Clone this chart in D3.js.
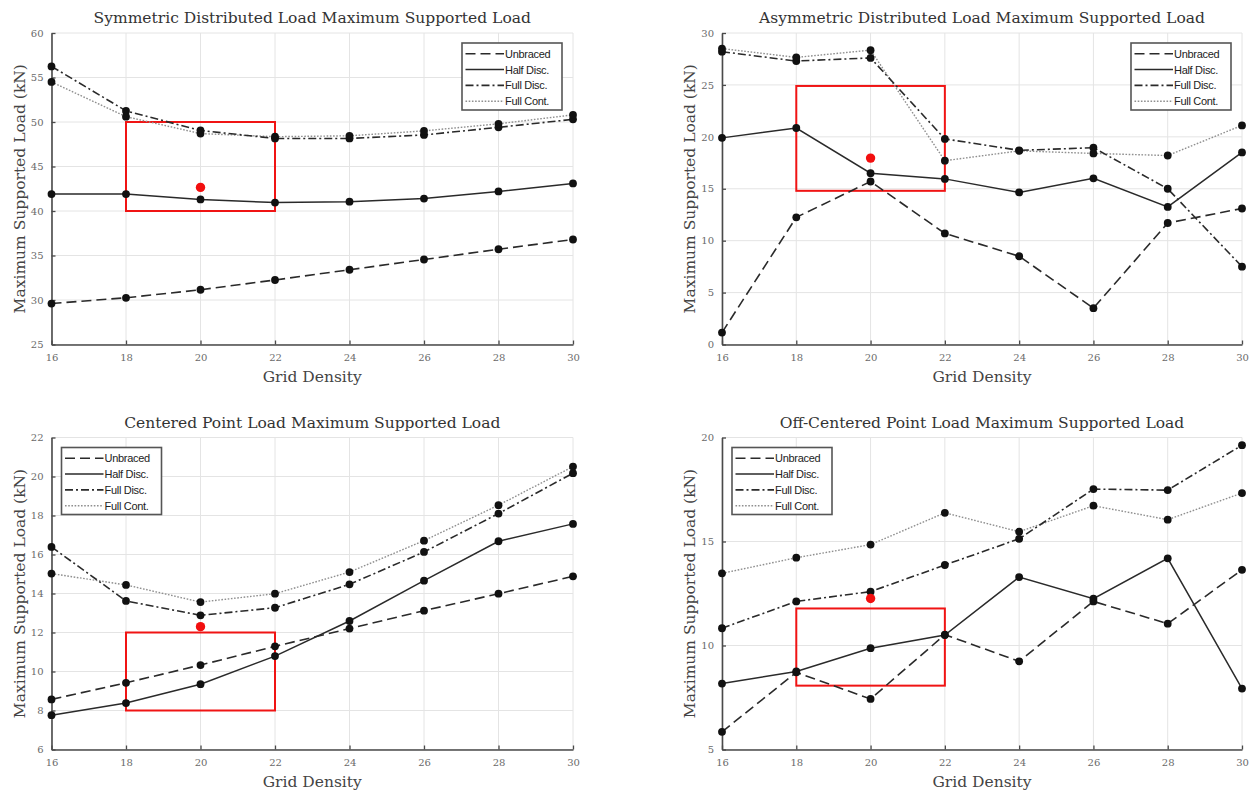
<!DOCTYPE html>
<html>
<head>
<meta charset="utf-8">
<script src="https://cdn.jsdelivr.net/npm/d3@7"></script>
<style>
  html, body { margin: 0; padding: 0; background: #fff; }
  svg { display: block; }
</style>
</head>
<body>
<svg id="chart" width="1250" height="793"></svg>
<script>
// ---------------- DATA ----------------
const gridDensity = [16, 18, 20, 22, 24, 26, 28, 30];
const seriesNames = ["Unbraced", "Half Disc.", "Full Disc.", "Full Cont."];
const xTicks = [16, 18, 20, 22, 24, 26, 28, 30];

// Symmetric Distributed Load
const symTitle = "Symmetric Distributed Load Maximum Supported Load";
const symYTicks = [25, 30, 35, 40, 45, 50, 55, 60];
const symUnbraced = [29.6, 30.25, 31.15, 32.25, 33.4, 34.55, 35.7, 36.8];
const symHalfDisc = [41.9, 41.9, 41.3, 40.95, 41.05, 41.4, 42.2, 43.1];
const symFullDisc = [56.25, 51.25, 49.05, 48.15, 48.15, 48.55, 49.4, 50.3];
const symFullCont = [54.5, 50.6, 48.7, 48.35, 48.45, 49.0, 49.8, 50.8];
const symRedPoint = [20, 42.65];
const symRedBox = [18, 22, 40, 50];

// Asymmetric Distributed Load
const asymTitle = "Asymmetric Distributed Load Maximum Supported Load";
const asymYTicks = [0, 5, 10, 15, 20, 25, 30];
const asymUnbraced = [1.15, 12.25, 15.7, 10.7, 8.5, 3.5, 11.7, 13.1];
const asymHalfDisc = [19.9, 20.85, 16.5, 15.95, 14.65, 16.0, 13.25, 18.5];
const asymFullDisc = [28.2, 27.3, 27.6, 19.8, 18.7, 18.95, 15.0, 7.5];
const asymFullCont = [28.5, 27.65, 28.35, 17.7, 18.65, 18.4, 18.2, 21.1];
const asymRedPoint = [20, 17.95];
const asymRedBox = [18, 22, 14.8, 24.9];

// Centered Point Load
const cenTitle = "Centered Point Load Maximum Supported Load";
const cenYTicks = [6, 8, 10, 12, 14, 16, 18, 20, 22];
const cenUnbraced = [8.57, 9.42, 10.33, 11.29, 12.2, 13.12, 13.99, 14.88];
const cenHalfDisc = [7.76, 8.38, 9.35, 10.79, 12.59, 14.66, 16.68, 17.57];
const cenFullDisc = [16.39, 13.62, 12.88, 13.27, 14.47, 16.13, 18.1, 20.17];
const cenFullCont = [15.02, 14.44, 13.56, 13.99, 15.1, 16.71, 18.53, 20.51];
const cenRedPoint = [20, 12.3];
const cenRedBox = [18, 22, 8, 12];

// Off-Centered Point Load
const offTitle = "Off-Centered Point Load Maximum Supported Load";
const offYTicks = [5, 10, 15, 20];
const offUnbraced = [5.85, 8.71, 7.43, 10.52, 9.24, 12.12, 11.05, 13.64];
const offHalfDisc = [8.17, 8.75, 9.87, 10.5, 13.29, 12.25, 14.19, 7.93];
const offFullDisc = [10.83, 12.12, 12.59, 13.87, 15.13, 17.52, 17.47, 19.63];
const offFullCont = [13.47, 14.22, 14.85, 16.38, 15.47, 16.72, 16.05, 17.33];
const offRedPoint = [20, 12.26];
const offRedBox = [18, 22, 8.07, 11.78];

const xLabel = "Grid Density";
const yLabel = "Maximum Supported Load (kN)";

// ---------------- STYLES ----------------
const lineStyles = [
  { stroke: "#2a2a2a", dash: "10,5", width: 1.6 },
  { stroke: "#2a2a2a", dash: null, width: 1.5 },
  { stroke: "#2a2a2a", dash: "8,3,2,3", width: 1.6 },
  { stroke: "#8f8f8f", dash: "1.6,1.6", width: 1.4 }
];
const serif = "'DejaVu Serif', 'Liberation Serif', serif";
const sans = "'Liberation Sans', Arial, sans-serif";

const svg = d3.select("#chart");

function drawPanel(p) {
  const g = svg.append("g");
  const x = d3.scaleLinear().domain([16, 30]).range([p.left, p.right]);
  const y = d3.scaleLinear().domain(d3.extent(p.yTicks)).range([p.bottom, p.top]);

  // grid
  g.append("g").selectAll("line.vg").data(xTicks).join("line")
    .attr("x1", d => x(d)).attr("x2", d => x(d))
    .attr("y1", p.top).attr("y2", p.bottom)
    .attr("stroke", "#e4e4e4").attr("stroke-width", 1);
  g.append("g").selectAll("line.hg").data(p.yTicks).join("line")
    .attr("x1", p.left).attr("x2", p.right)
    .attr("y1", d => y(d)).attr("y2", d => y(d))
    .attr("stroke", "#e4e4e4").attr("stroke-width", 1);

  // axes (ticks inward)
  const xAxis = d3.axisBottom(x).tickValues(xTicks).tickSizeInner(-4).tickSizeOuter(0).tickPadding(9);
  const yAxis = d3.axisLeft(y).tickValues(p.yTicks).tickSizeInner(-4).tickSizeOuter(0).tickPadding(8);
  const xg = g.append("g").attr("transform", `translate(0,${p.bottom})`).call(xAxis);
  const yg = g.append("g").attr("transform", `translate(${p.left},0)`).call(yAxis);
  [xg, yg].forEach(a => {
    a.select(".domain").attr("stroke", "#4a4a4a").attr("stroke-width", 1.6);
    a.selectAll(".tick line").attr("stroke", "#4a4a4a").attr("stroke-width", 1.3);
    a.selectAll(".tick text").attr("font-family", serif).attr("font-size", 10)
      .attr("fill", "#6a6a6a");
  });

  // red box
  const b = p.redBox;
  g.append("rect")
    .attr("x", x(b[0])).attr("y", y(b[3]))
    .attr("width", x(b[1]) - x(b[0])).attr("height", y(b[2]) - y(b[3]))
    .attr("fill", "none").attr("stroke", "#f01414").attr("stroke-width", 2);

  // lines
  const line = d3.line().x((d, i) => x(gridDensity[i])).y(d => y(d));
  const order = [3, 2, 1, 0];
  order.forEach(si => {
    const st = lineStyles[si];
    g.append("path").datum(p.series[si])
      .attr("d", line).attr("fill", "none")
      .attr("stroke", st.stroke).attr("stroke-width", st.width)
      .attr("stroke-dasharray", st.dash);
  });
  // markers
  p.series.forEach(s => {
    g.append("g").selectAll("circle").data(s).join("circle")
      .attr("cx", (d, i) => x(gridDensity[i])).attr("cy", d => y(d))
      .attr("r", 3.9).attr("fill", "#111");
  });
  // red point
  g.append("circle").attr("cx", x(p.redPoint[0])).attr("cy", y(p.redPoint[1]))
    .attr("r", 4.7).attr("fill", "#f20f0f");

  // title & labels
  g.append("text").attr("x", (p.left + p.right) / 2).attr("y", p.top - 10)
    .attr("text-anchor", "middle").attr("font-family", serif).attr("font-size", 15.5)
    .attr("fill", "#333").text(p.title);
  g.append("text").attr("x", (p.left + p.right) / 2).attr("y", p.bottom + 37)
    .attr("text-anchor", "middle").attr("font-family", serif).attr("font-size", 15.5)
    .attr("fill", "#444").text(xLabel);
  g.append("text")
    .attr("transform", `translate(${p.left - 27},${(p.top + p.bottom) / 2}) rotate(-90)`)
    .attr("text-anchor", "middle").attr("font-family", serif).attr("font-size", 15.5)
    .attr("fill", "#444").text(yLabel);

  // legend
  const lw = 100, lh = 67;
  const lx = p.legendRight ? p.right - 11 - lw : p.left + 10;
  const ly = p.top + 10;
  const lg = g.append("g");
  lg.append("rect").attr("x", lx).attr("y", ly).attr("width", lw).attr("height", lh)
    .attr("fill", "#fff").attr("stroke", "#555").attr("stroke-width", 1.6);
  seriesNames.forEach((name, i) => {
    const ry = ly + 10.8 + i * 15.8;
    const st = lineStyles[i];
    lg.append("line").attr("x1", lx + 3.5).attr("x2", lx + 42).attr("y1", ry).attr("y2", ry)
      .attr("stroke", st.stroke).attr("stroke-width", st.width)
      .attr("stroke-dasharray", st.dash);
    lg.append("text").attr("x", lx + 43).attr("y", ry + 4)
      .attr("font-family", sans).attr("font-size", 11).attr("fill", "#222")
      .attr("letter-spacing", -0.3).text(name);
  });
}

const L = { left: 51.5, right: 573 };
const R = { left: 722, right: 1242 };
const T = { top: 33, bottom: 344.5 };
const B = { top: 437.5, bottom: 749.5 };

drawPanel({ ...L, ...T, title: symTitle, yTicks: symYTicks,
  series: [symUnbraced, symHalfDisc, symFullDisc, symFullCont],
  redPoint: symRedPoint, redBox: symRedBox, legendRight: true });
drawPanel({ ...R, ...T, title: asymTitle, yTicks: asymYTicks,
  series: [asymUnbraced, asymHalfDisc, asymFullDisc, asymFullCont],
  redPoint: asymRedPoint, redBox: asymRedBox, legendRight: true });
drawPanel({ ...L, ...B, title: cenTitle, yTicks: cenYTicks,
  series: [cenUnbraced, cenHalfDisc, cenFullDisc, cenFullCont],
  redPoint: cenRedPoint, redBox: cenRedBox, legendRight: false });
drawPanel({ ...R, ...B, title: offTitle, yTicks: offYTicks,
  series: [offUnbraced, offHalfDisc, offFullDisc, offFullCont],
  redPoint: offRedPoint, redBox: offRedBox, legendRight: false });
</script>
</body>
</html>
